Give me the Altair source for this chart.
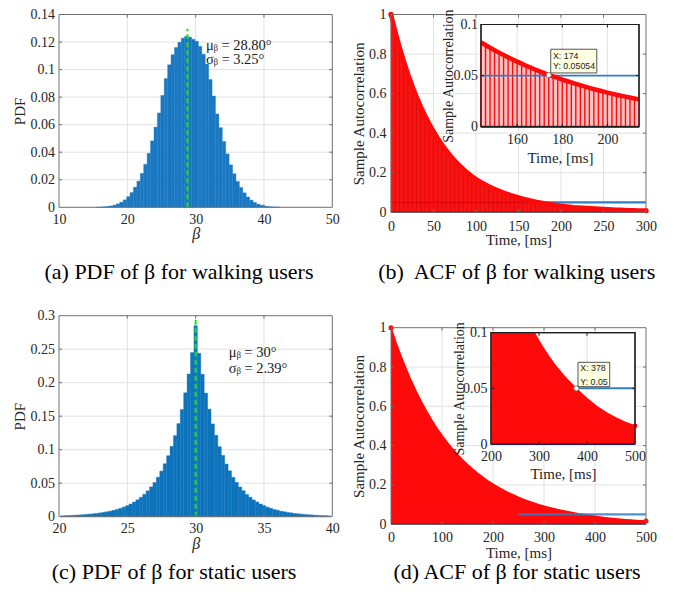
import altair as alt
import pandas as pd

# ------------------------------------------------------------------ data
# (a) PDF of beta for walking users (histogram, bin width 0.5 from 15.4)
A_BIN_START = 15.4
A_BIN_WIDTH = 0.5
A_PDF = [0.0001, 0.0002, 0.0004, 0.0006, 0.0010, 0.0016, 0.0025, 0.0037, 0.0054,
         0.0077, 0.0107, 0.0146, 0.0190, 0.0246, 0.0312, 0.0392, 0.0482, 0.0582,
         0.0685, 0.0812, 0.0935, 0.1035, 0.1108, 0.1160, 0.1198, 0.1228, 0.1242,
         0.1236, 0.1220, 0.1205, 0.1168, 0.1112, 0.1040, 0.0928, 0.0808, 0.0678,
         0.0578, 0.0478, 0.0388, 0.0308, 0.0244, 0.0188, 0.0144, 0.0105, 0.0075,
         0.0052, 0.0035, 0.0023, 0.0015, 0.0009, 0.0006, 0.0003, 0.0002, 0.0001]
A_MEAN = 28.8
A_MEAN_TOP = 0.1297
A_NOTE = ["μᵦ = 28.80°", "σᵦ = 3.25°"]
A_NOTE_X = 31.5
A_NOTE_Y = [0.1145, 0.1044]

# (c) PDF of beta for static users (histogram, bin width 0.25 from 20.125)
C_BIN_START = 20.125
C_BIN_WIDTH = 0.25
C_PDF = [0.0014, 0.0016, 0.0018, 0.0020, 0.0023, 0.0026, 0.0030, 0.0034, 0.0038,
         0.0043, 0.0049, 0.0056, 0.0064, 0.0073, 0.0083, 0.0095, 0.0109, 0.0125,
         0.0144, 0.0165, 0.0190, 0.0219, 0.0252, 0.0290, 0.0334, 0.0386, 0.0445,
         0.0510, 0.0590, 0.0680, 0.0790, 0.0910, 0.1050, 0.1210, 0.1390, 0.1600,
         0.1850, 0.2130, 0.2450, 0.2850, 0.2440, 0.2125, 0.1845, 0.1605, 0.1385,
         0.1215, 0.1045, 0.0915, 0.0785, 0.0685, 0.0588, 0.0512, 0.0443, 0.0388,
         0.0332, 0.0291, 0.0250, 0.0220, 0.0189, 0.0166, 0.0143, 0.0126, 0.0108,
         0.0096, 0.0082, 0.0074, 0.0063, 0.0057, 0.0048, 0.0044, 0.0037, 0.0034,
         0.0029, 0.0027, 0.0022, 0.0020, 0.0017, 0.0016, 0.0013]
C_MEAN = 30.0
C_MEAN_TOP = 0.2935
C_NOTE = ["μᵦ = 30°", "σᵦ = 2.39°"]
C_NOTE_X = 32.43
C_NOTE_Y = [0.2387, 0.2148]

# (b) ACF of beta for walking users, lag 0..300 ms every 5 ms
B_STEP = 5
B_ACF = [1.0, 0.9146, 0.8365, 0.7650, 0.6997, 0.6399, 0.5853, 0.5353, 0.4895, 0.4477,
         0.4095, 0.3745, 0.3425, 0.3133, 0.2865, 0.2621, 0.2397, 0.2192, 0.2005, 0.1833,
         0.1677, 0.1547, 0.1427, 0.1316, 0.1214, 0.1120, 0.1033, 0.0953, 0.0879, 0.0811,
         0.0748, 0.0690, 0.0637, 0.0587, 0.0542, 0.0500, 0.0461, 0.0425, 0.0392, 0.0362,
         0.0334, 0.0308, 0.0284, 0.0262, 0.0245, 0.0229, 0.0214, 0.0200, 0.0187, 0.0175,
         0.0164, 0.0153, 0.0143, 0.0134, 0.0125, 0.0117, 0.0109, 0.0102, 0.0096, 0.0090,
         0.0084]
# zoomed view of (b): lag 144..214 ms every 2 ms
BZ_START = 144
BZ_STEP = 2
BZ_ACF = [0.0825, 0.0799, 0.0773, 0.0749, 0.0725, 0.0702, 0.0680, 0.0658, 0.0637,
          0.0617, 0.0597, 0.0578, 0.0560, 0.0542, 0.0525, 0.0505, 0.0492, 0.0477,
          0.0461, 0.0447, 0.0433, 0.0419, 0.0406, 0.0393, 0.0380, 0.0368, 0.0357,
          0.0345, 0.0334, 0.0324, 0.0313, 0.0303, 0.0294, 0.0285, 0.0276, 0.0267]
THRESHOLD = 0.05
B_THRESHOLD_SPAN = [0, 300]
BZ_THRESHOLD_SPAN = [144, 214]
B_TIP = [174, 0.05054]
B_TIP_TEXT = ["X: 174", "Y: 0.05054"]
B_TIP_BOX = [174.9, 195.3, 0.0526, 0.0758]
B_TIP_TEXT_X = 175.9
B_TIP_TEXT_Y = [0.0663, 0.0568]

# (d) ACF of beta for static users, lag 0..500 ms every 10 ms
D_STEP = 10
D_ACF = [1.0, 0.9237, 0.8532, 0.7881, 0.7280, 0.6725, 0.6212, 0.5738, 0.5300, 0.4895,
         0.4522, 0.4177, 0.3858, 0.3564, 0.3292, 0.3041, 0.2809, 0.2594, 0.2397, 0.2214,
         0.2045, 0.1889, 0.1745, 0.1612, 0.1489, 0.1375, 0.1270, 0.1173, 0.1084, 0.1001,
         0.0925, 0.0854, 0.0789, 0.0729, 0.0673, 0.0622, 0.0574, 0.0530, 0.0490, 0.0447,
         0.0408, 0.0372, 0.0339, 0.0309, 0.0282, 0.0257, 0.0234, 0.0213, 0.0194, 0.0177,
         0.0162]
D_THRESHOLD_SPAN = [250, 500]
DZ_THRESHOLD_SPAN = [200, 500]
DZ_START = 200
DZ_LINE_FROM = 290
D_TIP = [378, 0.05]
D_TIP_TEXT = ["X: 378", "Y: 0.05"]
D_TIP_BOX = [381.3, 447.3, 0.0515, 0.0734]
D_TIP_TEXT_X = 386
D_TIP_TEXT_Y = [0.0652, 0.0534]

# tick values
A_XT = [10, 20, 30, 40, 50]
A_YT = [0, 0.02, 0.04, 0.06, 0.08, 0.1, 0.12, 0.14]
B_XT = [0, 50, 100, 150, 200, 250, 300]
B_YT = [0, 0.2, 0.4, 0.6, 0.8, 1]
BZ_XT = [160, 180, 200]
BZ_YT = [0, 0.05, 0.1]
C_XT = [20, 25, 30, 35, 40]
C_YT = [0, 0.05, 0.1, 0.15, 0.2, 0.25, 0.3]
D_XT = [0, 100, 200, 300, 400, 500]
D_YT = [0, 0.2, 0.4, 0.6, 0.8, 1]
DZ_XT = [200, 300, 400, 500]
DZ_YT = [0, 0.05, 0.1]

# captions (placed in each panel's own data coordinates, below the axes)
CAPTIONS = {
    "a": ("(a) PDF of β for walking users", 27.56, -0.0519),
    "b": ("(b)\u00a0 ACF of β for walking users", 147.9, -0.3363),
    "c": ("(c) PDF of β for static users", 28.42, -0.093),
    "d": ("(d) ACF of β for static users", 247.1, -0.2782),
}

# ------------------------------------------------------------------ layout / style
M = 8                     # page margin
W, H = 665, 576           # whole drawing area
SERIF = "Liberation Serif"
SANS = "Liberation Sans"
INK = "#262626"
GRIDC = "#e2e2e2"
FRAMEC = "#707070"
INSETC = "#1e1e1e"
HIST_A = "#1a78c2"
HIST_C = "#0c73bc"
GREEN = "#22dd22"
RED = "#ff0a0a"
DARKRED = "#c00000"
PINK = "#ffc2c2"
BLUE = "#2e7fc6"
NAVY = "#1b2a80"
LABEL_EXPR = "toString(datum.value)"

# panel geometry in page pixels: x range, y range (bottom, top), domains
GEOM = {
    "a": dict(px=(59, 332.3), py=(207.3, 14.5), xd=(10, 50), yd=(0, 0.14)),
    "b": dict(px=(391, 646), py=(212.3, 14.5), xd=(0, 300), yd=(0, 1)),
    "bz": dict(px=(481, 639), py=(126.7, 24.5), xd=(144, 214), yd=(0, 0.1)),
    "c": dict(px=(59, 332.3), py=(516.7, 315.7), xd=(20, 40), yd=(0, 0.3)),
    "d": dict(px=(391, 646), py=(524.3, 327.7), xd=(0, 500), yd=(0, 1)),
    "dz": dict(px=(491, 635), py=(444, 332.7), xd=(200, 500), yd=(0, 0.1)),
}


class Panel:
    def __init__(self, key, xticks, yticks, clamp_y=False):
        g = GEOM[key]
        self.px, self.py, self.xd, self.yd = g["px"], g["py"], g["xd"], g["yd"]
        self.xticks, self.yticks = xticks, yticks
        self.sx = alt.Scale(domain=list(self.xd), range=[self.px[0] - M, self.px[1] - M],
                            nice=False, zero=False)
        ys = dict(domain=list(self.yd), range=[self.py[0] - M, self.py[1] - M],
                  nice=False, zero=False)
        if clamp_y:
            ys["clamp"] = True
        self.sy = alt.Scale(**ys)
        self.layers = []
        self.ax = alt.Undefined
        self.ay = alt.Undefined

    def X(self, f):
        return alt.X(f, type="quantitative", scale=self.sx, axis=self.ax)

    def Y(self, f):
        return alt.Y(f, type="quantitative", scale=self.sy, axis=self.ay)

    def set_axes(self, xtitle, xpad, xbase, ytitle, ypad, ybase,
                 xtitle_size=15, ytitle_size=15, italic=False):
        kx = dict(orient="bottom", offset=self.py[0] - M - H, values=self.xticks,
                  labelExpr=LABEL_EXPR,
                  grid=False, ticks=False, tickSize=0, domain=False, labelFlush=False,
                  labelOverlap=False, labelPadding=xpad, labelBaseline="alphabetic",
                  labelFont=SERIF, labelFontSize=14, labelColor=INK,
                  title=xtitle, titleFont=SERIF, titleFontSize=xtitle_size,
                  titleFontWeight="normal", titleColor=INK, titleBaseline="alphabetic",
                  titleY=xbase - self.py[0], zindex=1)
        if italic:
            kx["titleFontStyle"] = "italic"
        self.ax = alt.Axis(**kx)
        self.ay = alt.Axis(orient="left", offset=-(self.px[0] - M), values=self.yticks,
                           labelExpr=LABEL_EXPR, grid=False, ticks=False, tickSize=0,
                           domain=False, labelFlush=False, labelOverlap=False,
                           labelPadding=ypad, labelBaseline="middle", labelAlign="right",
                           labelFont=SERIF, labelFontSize=14, labelColor=INK, title=ytitle,
                           titleFont=SERIF, titleFontSize=ytitle_size,
                           titleFontWeight="normal", titleColor=INK, titleAngle=270,
                           titleBaseline="alphabetic", titleX=ybase - self.px[0], zindex=1)

    def inside(self, vals, d):
        return [v for v in vals if d[0] < v < d[1]]

    def segs(self, rows, color, width, opacity=1.0, dash=None):
        df = pd.DataFrame(rows, columns=["x", "y", "x2", "y2"])
        kw = dict(color=color, strokeWidth=width, opacity=opacity)
        if dash:
            kw["strokeDash"] = dash
        c = alt.Chart(df).mark_rule(**kw).encode(
            x=self.X("x"), y=self.Y("y"), x2="x2", y2="y2")
        self.layers.append(c)

    def grid(self):
        x0, x1 = self.xd
        y0, y1 = self.yd
        rows = [(x, y0, x, y1) for x in self.inside(self.xticks, self.xd)]
        rows += [(x0, y, x1, y) for y in self.inside(self.yticks, self.yd)]
        self.segs(rows, GRIDC, 1)

    def ticks(self, color, length=3.0):
        x0, x1 = self.xd
        y0, y1 = self.yd
        lx = length * (x1 - x0) / (self.px[1] - self.px[0])
        ly = length * (y1 - y0) / (self.py[0] - self.py[1])
        rows = []
        for x in self.inside(self.xticks, self.xd):
            rows += [(x, y0, x, y0 + ly), (x, y1, x, y1 - ly)]
        for y in self.inside(self.yticks, self.yd):
            rows += [(x0, y, x0 + lx, y), (x1, y, x1 - lx, y)]
        self.segs(rows, color, 1)

    def box(self, stroke, width, fill=None, xr=None, yr=None):
        xr = xr or self.xd
        yr = yr or self.yd
        df = pd.DataFrame({"x": [xr[0]], "x2": [xr[1]], "y": [yr[0]], "y2": [yr[1]]})
        if fill:
            mark = alt.Chart(df).mark_rect(fill=fill, stroke=stroke, strokeWidth=width)
        else:
            mark = alt.Chart(df).mark_rect(fillOpacity=0, stroke=stroke, strokeWidth=width)
        self.layers.append(mark.encode(x=self.X("x"), y=self.Y("y"), x2="x2", y2="y2"))

    def text(self, xs, ys, texts, **kw):
        df = pd.DataFrame({"x": xs, "y": ys, "t": texts})
        self.layers.append(alt.Chart(df).mark_text(**kw).encode(
            x=self.X("x"), y=self.Y("y"), text="t:N"))

    def caption(self, key):
        s, x, y = CAPTIONS[key]
        self.text([x], [y], [s], font=SERIF, fontSize=22, align="center",
                  baseline="alphabetic", color="black")

    def hist(self, start, width, values, color):
        df = pd.DataFrame({"x": [start + i * width for i in range(len(values))],
                           "x2": [start + (i + 1) * width for i in range(len(values))],
                           "y": values, "y2": [0.0] * len(values)})
        self.layers.append(alt.Chart(df).mark_rect(color=color, stroke=color, strokeWidth=0.4)
                           .encode(x=self.X("x"), x2="x2", y=self.Y("y"), y2="y2"))

    def series(self, t, v, kind, **kw):
        df = pd.DataFrame({"t": t, "v": v})
        ch = alt.Chart(df)
        m = ch.mark_area(**kw) if kind == "area" else (
            ch.mark_line(**kw) if kind == "line" else ch.mark_circle(**kw))
        self.layers.append(m.encode(x=self.X("t"), y=self.Y("v")))

    def chart(self):
        return alt.layer(*self.layers)


def tip(p, point, box, tx, ty, texts):
    p.series([point[0]], [point[1]], "circle", size=26, color="white", stroke="#7a7a7a",
             strokeWidth=1, opacity=1)
    p.box("#2a2a2a", 0.8, fill="#ffffe1", xr=(box[0], box[1]), yr=(box[2], box[3]))
    p.text([tx, tx], ty, texts, font=SANS, fontSize=8.8, align="left",
           baseline="alphabetic", color="#1a1a1a")


# ------------------------------------------------------------------ (a)
pa = Panel("a", A_XT, A_YT)
pa.set_axes("β", 16, 238, "PDF", 4.5, 24.5, xtitle_size=16, italic=True)
pa.grid()
pa.hist(A_BIN_START, A_BIN_WIDTH, A_PDF, HIST_A)
pa.segs([(A_MEAN, 0, A_MEAN, A_MEAN_TOP)], GREEN, 2, dash=[5, 3])
pa.text([A_NOTE_X, A_NOTE_X], A_NOTE_Y, A_NOTE, font=SERIF, fontSize=14.5, align="left",
        baseline="alphabetic", color="#1a1a1a")
pa.box(FRAMEC, 1)
pa.ticks(FRAMEC)
pa.caption("a")

# ------------------------------------------------------------------ (c)
pc = Panel("c", C_XT, C_YT)
pc.set_axes("β", 16, 548, "PDF", 4.5, 24.5, xtitle_size=16, italic=True)
pc.grid()
pc.hist(C_BIN_START, C_BIN_WIDTH, C_PDF, HIST_C)
pc.segs([(C_MEAN, 0, C_MEAN, C_MEAN_TOP)], GREEN, 2, dash=[5, 3])
pc.text([C_NOTE_X, C_NOTE_X], C_NOTE_Y, C_NOTE, font=SERIF, fontSize=14.5, align="left",
        baseline="alphabetic", color="#1a1a1a")
pc.box(FRAMEC, 1)
pc.ticks(FRAMEC)
pc.caption("c")

# ------------------------------------------------------------------ (b) main
b_t = [i * B_STEP for i in range(len(B_ACF))]
pb = Panel("b", B_XT, B_YT)
pb.set_axes("Time, [ms]", 17.7, 244, "Sample Autocorrelation", 5, 363.5)
pb.grid()
pb.segs([(B_THRESHOLD_SPAN[0], THRESHOLD, B_THRESHOLD_SPAN[1], THRESHOLD)], BLUE, 2.2)
pb.series(b_t, B_ACF, "area", color="#f80000", opacity=0.92)
pb.segs([(t, 0, t, v) for t, v in zip(b_t, B_ACF)], DARKRED, 0.9, opacity=0.5)
pb.segs([(b_t[0], 0, b_t[-1], 0)], NAVY, 1.5)
pb.series(b_t, B_ACF, "line", color=RED, strokeWidth=4.5, strokeCap="round")
pb.series([b_t[0], b_t[-1]], [B_ACF[0], B_ACF[-1]], "circle", size=28, color=RED, opacity=1)
pb.box(FRAMEC, 1)
pb.ticks(FRAMEC)
pb.caption("b")

# ------------------------------------------------------------------ (b) inset
bz_t = [BZ_START + i * BZ_STEP for i in range(len(BZ_ACF))]
pbz = Panel("bz", BZ_XT, BZ_YT)
pbz.set_axes("Time, [ms]", 16.6, 162, "Sample Autocorrelation", 3.5, 452.8,
             ytitle_size=14)
pbz.box(INSETC, 1.2, fill="white")
pbz.grid()
pbz.series(bz_t, BZ_ACF, "area", color=PINK, opacity=1)
pbz.segs([(t, 0, t, v) for t, v in zip(bz_t, BZ_ACF)], RED, 1.4)
pbz.segs([(BZ_THRESHOLD_SPAN[0], THRESHOLD, BZ_THRESHOLD_SPAN[1], THRESHOLD)], BLUE, 1.8)
pbz.series(bz_t, BZ_ACF, "line", color=RED, strokeWidth=4.5)
pbz.segs([(bz_t[0], 0, bz_t[-1], 0)], NAVY, 2)
tip(pbz, B_TIP, B_TIP_BOX, B_TIP_TEXT_X, B_TIP_TEXT_Y, B_TIP_TEXT)
pbz.box(INSETC, 1.2)
pbz.ticks(INSETC)

# ------------------------------------------------------------------ (d) main
d_t = [i * D_STEP for i in range(len(D_ACF))]
pd_ = Panel("d", D_XT, D_YT)
pd_.set_axes("Time, [ms]", 17.4, 557, "Sample Autocorrelation", 5, 363.5)
pd_.grid()
pd_.series(d_t, D_ACF, "area", color=RED, opacity=1)
pd_.series(d_t, D_ACF, "line", color=RED, strokeWidth=1.5)
pd_.segs([(d_t[0], 0, d_t[-1], 0)], NAVY, 1.5)
pd_.segs([(D_THRESHOLD_SPAN[0], THRESHOLD, D_THRESHOLD_SPAN[1], THRESHOLD)], BLUE, 2.2,
         opacity=0.85)
pd_.series([d_t[0], d_t[-1]], [D_ACF[0], D_ACF[-1]], "circle", size=26, color=RED, opacity=1)
pd_.box(FRAMEC, 1)
pd_.ticks(FRAMEC)
pd_.caption("d")

# ------------------------------------------------------------------ (d) inset
dz_pairs = [(t, v) for t, v in zip(d_t, D_ACF) if t >= DZ_START]
dz_line = [(t, v) for t, v in dz_pairs if t >= DZ_LINE_FROM]
pdz = Panel("dz", DZ_XT, DZ_YT, clamp_y=True)
pdz.set_axes("Time, [ms]", 16, 478.5, "Sample Autocorrelation", 4, 463, ytitle_size=14)
pdz.box(INSETC, 1.2, fill="white")
pdz.grid()
pdz.segs([(DZ_THRESHOLD_SPAN[0], THRESHOLD, DZ_THRESHOLD_SPAN[1], THRESHOLD)], BLUE, 2)
pdz.segs([(DZ_THRESHOLD_SPAN[0], 0, DZ_THRESHOLD_SPAN[1], 0)], NAVY, 2)
pdz.series([t for t, _ in dz_pairs], [v for _, v in dz_pairs], "area", color=RED, opacity=1)
pdz.series([t for t, _ in dz_line], [v for _, v in dz_line], "line", color=RED, strokeWidth=1.5)
pdz.series([dz_line[-1][0]], [dz_line[-1][1]], "circle", size=24, color=RED, opacity=1)
tip(pdz, D_TIP, D_TIP_BOX, D_TIP_TEXT_X, D_TIP_TEXT_Y, D_TIP_TEXT)
pdz.box(INSETC, 1.2)
pdz.ticks(INSETC)

# ------------------------------------------------------------------ assemble
chart = (
    alt.layer(pa.chart(), pc.chart(), pb.chart(), pbz.chart(), pd_.chart(), pdz.chart())
    .resolve_scale(x="independent", y="independent")
    .properties(width=W, height=H, autosize=alt.AutoSizeParams(type="none"), padding=0)
    .configure_view(strokeWidth=0)
)

chart.save("out.html", embed_options={"renderer": "svg", "actions": False})
